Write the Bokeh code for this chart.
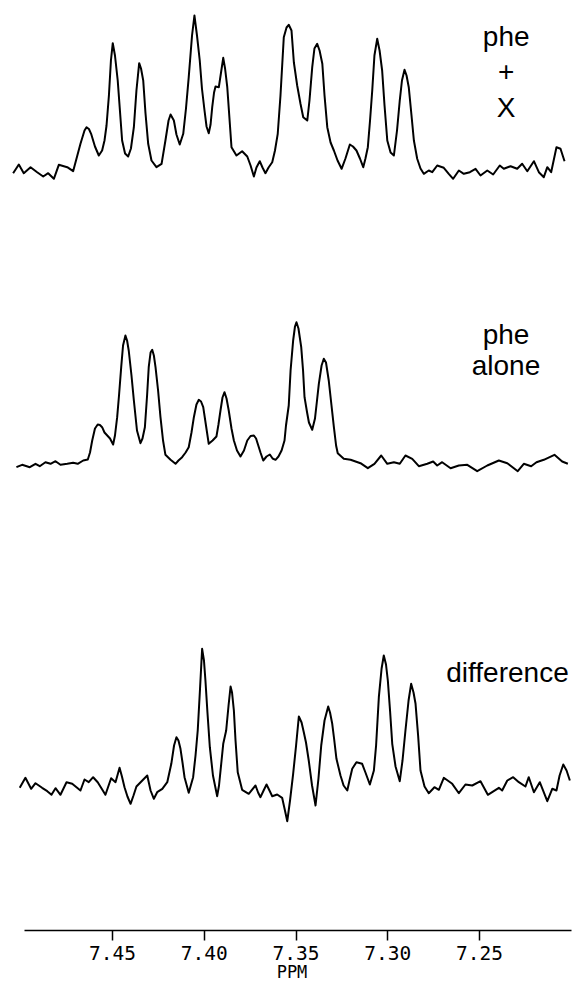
from bokeh.plotting import figure
from bokeh.models import Range1d, FixedTicker, Label
from bokeh.embed import file_html
from bokeh.resources import INLINE

# ---------------- data ----------------
# chemical shift (ppm) and intensity (arbitrary units, 0 = baseline)
top_ppm = [7.5042, 7.5011, 7.4984, 7.4947, 7.4911, 7.4878, 7.4851, 7.4820, 7.4793, 7.4747,
           7.4715, 7.4675, 7.4653, 7.4642, 7.4629, 7.4617, 7.4596, 7.4575, 7.4557, 7.4544,
           7.4533, 7.4520, 7.4509, 7.4499, 7.4487, 7.4472, 7.4460, 7.4448, 7.4432, 7.4415,
           7.4400, 7.4384, 7.4370, 7.4355, 7.4345, 7.4333, 7.4321, 7.4306, 7.4288, 7.4261,
           7.4233, 7.4212, 7.4195, 7.4184, 7.4166, 7.4152, 7.4134, 7.4115, 7.4100, 7.4085,
           7.4067, 7.4054, 7.4040, 7.4025, 7.4013, 7.3999, 7.3988, 7.3976, 7.3966, 7.3957,
           7.3947, 7.3939, 7.3921, 7.3909, 7.3897, 7.3887, 7.3875, 7.3863, 7.3852, 7.3825,
           7.3794, 7.3766, 7.3748, 7.3730, 7.3716, 7.3698, 7.3683, 7.3667, 7.3650, 7.3630,
           7.3615, 7.3600, 7.3585, 7.3567, 7.3552, 7.3540, 7.3525, 7.3512, 7.3494, 7.3476,
           7.3461, 7.3439, 7.3427, 7.3412, 7.3400, 7.3385, 7.3372, 7.3357, 7.3345, 7.3330,
           7.3312, 7.3294, 7.3274, 7.3252, 7.3231, 7.3207, 7.3190, 7.3171, 7.3152, 7.3134,
           7.3122, 7.3109, 7.3097, 7.3085, 7.3073, 7.3058, 7.3045, 7.3031, 7.3018, 7.3003,
           7.2985, 7.2967, 7.2950, 7.2935, 7.2923, 7.2909, 7.2898, 7.2886, 7.2871, 7.2858,
           7.2840, 7.2822, 7.2804, 7.2777, 7.2758, 7.2731, 7.2695, 7.2668, 7.2644, 7.2613,
           7.2586, 7.2553, 7.2522, 7.2495, 7.2458, 7.2426, 7.2390, 7.2368, 7.2331, 7.2295,
           7.2268, 7.2240, 7.2204, 7.2177, 7.2150, 7.2131, 7.2110, 7.2081, 7.2059, 7.2037]
top_int = [-1.7, 7.0, -1.7, 4.3, -0.7, -5.0, -1.7, -7.3, 6.7, 4.3,
           0.3, 27.7, 41.0, 44.3, 42.5, 37.7, 25.0, 16.0, 21.0, 31.0,
           46.0, 76.0, 111.0, 128.3, 116.0, 91.0, 61.0, 31.0, 18.0, 15.0,
           23.0, 44.3, 81.0, 108.3, 103.0, 91.0, 59.0, 27.7, 11.0, 4.3,
           7.7, 31.0, 51.0, 57.0, 51.0, 37.0, 27.0, 37.7, 63.0, 94.3,
           136.0, 156.0, 136.0, 111.0, 83.0, 61.0, 45.0, 38.3, 47.0, 64.3,
           79.0, 85.0, 84.3, 99.0, 113.7, 103.0, 84.3, 53.0, 24.3, 16.0,
           20.3, 15.0, 6.0, -5.0, 4.0, 10.3, 4.0, -1.7, 4.0, 9.3,
           21.0, 37.7, 76.0, 134.3, 144.0, 146.7, 141.0, 109.0, 86.0, 67.7,
           54.3, 51.0, 71.0, 104.3, 123.0, 127.7, 121.0, 107.7, 76.0, 44.3,
           29.0, 21.0, 11.0, 2.7, 13.0, 27.0, 25.0, 21.0, 13.0, 4.3,
           13.0, 24.3, 51.0, 81.0, 116.0, 132.7, 121.0, 101.0, 66.0, 31.0,
           19.0, 16.0, 41.0, 71.0, 91.0, 101.7, 96.0, 84.3, 56.0, 31.0,
           12.7, 3.0, -2.3, 1.0, -0.7, 6.0, 3.7, -2.3, -7.3, 1.0,
           -2.3, -0.7, 2.7, -4.0, 1.0, -3.0, 6.0, 2.7, 5.3, 2.7,
           7.7, 0.3, 10.3, -0.7, -5.7, 4.3, -0.7, 24.3, 22.7, 10.3]

mid_ppm = [7.5024, 7.4993, 7.4951, 7.4920, 7.4897, 7.4866, 7.4838, 7.4811, 7.4784, 7.4747,
           7.4715, 7.4690, 7.4660, 7.4635, 7.4623, 7.4611, 7.4596, 7.4581, 7.4569, 7.4557,
           7.4544, 7.4529, 7.4514, 7.4497, 7.4487, 7.4475, 7.4465, 7.4453, 7.4443, 7.4430,
           7.4421, 7.4412, 7.4397, 7.4384, 7.4367, 7.4348, 7.4337, 7.4324, 7.4312, 7.4303,
           7.4293, 7.4284, 7.4275, 7.4266, 7.4252, 7.4239, 7.4225, 7.4212, 7.4184, 7.4157,
           7.4141, 7.4121, 7.4102, 7.4085, 7.4070, 7.4057, 7.4043, 7.4030, 7.4018, 7.4006,
           7.3991, 7.3976, 7.3955, 7.3934, 7.3923, 7.3912, 7.3901, 7.3890, 7.3879, 7.3867,
           7.3852, 7.3839, 7.3822, 7.3803, 7.3784, 7.3766, 7.3748, 7.3730, 7.3718, 7.3709,
           7.3694, 7.3679, 7.3661, 7.3643, 7.3628, 7.3612, 7.3596, 7.3579, 7.3563, 7.3555,
           7.3540, 7.3530, 7.3516, 7.3506, 7.3498, 7.3487, 7.3472, 7.3462, 7.3454, 7.3440,
           7.3430, 7.3412, 7.3397, 7.3386, 7.3376, 7.3361, 7.3349, 7.3337, 7.3322, 7.3307,
           7.3294, 7.3282, 7.3273, 7.3240, 7.3203, 7.3149, 7.3109, 7.3073, 7.3036, 7.3003,
           7.2967, 7.2935, 7.2904, 7.2867, 7.2831, 7.2785, 7.2753, 7.2731, 7.2704, 7.2658,
           7.2613, 7.2567, 7.2513, 7.2458, 7.2395, 7.2349, 7.2292, 7.2259, 7.2219, 7.2190,
           7.2150, 7.2092, 7.2050, 7.2019]
mid_int = [-3.7, -1.3, -3.7, -0.3, -2.7, 1.3, -0.3, 2.3, -1.3, -0.3,
           0.7, -0.3, 3.0, 4.0, 11.0, 23.0, 35.0, 39.0, 38.5, 36.3,
           31.0, 28.0, 25.0, 19.0, 28.0, 46.3, 68.0, 96.3, 118.0, 128.0,
           123.0, 113.0, 88.0, 63.0, 33.0, 20.3, 25.0, 36.3, 68.0, 96.3,
           111.0, 113.7, 108.0, 96.3, 73.0, 46.3, 23.0, 8.7, 3.7, -0.3,
           3.0, 6.3, 11.0, 16.3, 31.0, 46.3, 59.0, 63.7, 62.0, 56.3,
           38.0, 19.7, 23.0, 27.0, 39.0, 53.0, 66.0, 71.3, 65.0, 53.0,
           35.0, 23.0, 13.0, 7.0, 13.0, 23.0, 27.5, 28.0, 25.0, 19.7,
           11.0, 3.0, 7.0, 9.0, 5.0, 3.7, 7.0, 13.0, 23.0, 38.0,
           58.0, 93.0, 123.0, 137.0, 141.3, 135.0, 116.3, 93.0, 66.3, 51.0,
           41.0, 33.7, 45.0, 63.0, 79.7, 98.0, 104.7, 101.0, 83.0, 58.0,
           36.3, 18.0, 10.3, 4.7, 3.7, 0.3, -4.7, -0.3, 8.0, -0.3,
           1.3, -0.3, 8.0, 4.7, -2.7, -0.3, 2.0, -2.0, 1.3, -4.7,
           -2.0, -1.3, -7.7, -2.0, 3.0, 0.3, -7.7, -0.3, -2.7, 1.3,
           3.7, 8.7, 2.0, -0.3]

diff_ppm = [7.5006, 7.4975, 7.4944, 7.4920, 7.4884, 7.4856, 7.4833, 7.4811, 7.4784, 7.4751,
            7.4720, 7.4675, 7.4653, 7.4630, 7.4606, 7.4581, 7.4560, 7.4539, 7.4508, 7.4484,
            7.4462, 7.4449, 7.4435, 7.4419, 7.4402, 7.4386, 7.4370, 7.4338, 7.4311, 7.4293,
            7.4275, 7.4257, 7.4229, 7.4202, 7.4180, 7.4165, 7.4152, 7.4141, 7.4130, 7.4119,
            7.4108, 7.4085, 7.4061, 7.4048, 7.4036, 7.4024, 7.4012, 7.4002, 7.3994, 7.3983,
            7.3970, 7.3953, 7.3930, 7.3920, 7.3908, 7.3897, 7.3881, 7.3868, 7.3857, 7.3849,
            7.3839, 7.3830, 7.3818, 7.3794, 7.3758, 7.3721, 7.3707, 7.3694, 7.3677, 7.3661,
            7.3645, 7.3630, 7.3603, 7.3576, 7.3563, 7.3548, 7.3533, 7.3516, 7.3500, 7.3485,
            7.3470, 7.3458, 7.3446, 7.3431, 7.3413, 7.3394, 7.3378, 7.3363, 7.3345, 7.3325,
            7.3315, 7.3303, 7.3293, 7.3280, 7.3258, 7.3241, 7.3221, 7.3209, 7.3194, 7.3171,
            7.3140, 7.3122, 7.3098, 7.3076, 7.3064, 7.3049, 7.3034, 7.3022, 7.3010, 7.3000,
            7.2988, 7.2976, 7.2958, 7.2935, 7.2920, 7.2904, 7.2887, 7.2873, 7.2860, 7.2849,
            7.2835, 7.2822, 7.2800, 7.2777, 7.2746, 7.2722, 7.2695, 7.2649, 7.2613, 7.2577,
            7.2540, 7.2495, 7.2455, 7.2395, 7.2377, 7.2349, 7.2317, 7.2286, 7.2250, 7.2232,
            7.2204, 7.2172, 7.2131, 7.2104, 7.2081, 7.2064, 7.2044, 7.2026, 7.2008]
diff_int = [-0.3, 9.7, -1.3, 4.3, -0.3, -3.7, -7.3, -0.7, -7.3, 5.3,
            3.7, -3.0, 8.0, 5.3, 10.3, 5.3, -1.0, -7.3, 9.3, 5.3,
            19.7, 11.0, 0.3, -9.0, -16.3, -8.0, 1.0, 7.0, 12.0, -3.0,
            -11.3, -4.7, -1.3, 5.3, 23.7, 42.0, 50.3, 47.0, 38.7, 25.0,
            10.3, -5.3, 10.3, 32.0, 57.0, 97.0, 138.7, 127.0, 107.0, 75.0,
            40.3, 12.0, -8.7, 2.0, 23.7, 43.7, 57.0, 82.0, 101.0, 95.0,
            77.0, 47.0, 15.3, -2.3, -6.3, 2.0, -5.0, -9.7, -3.0, 3.0,
            -3.0, -8.7, -7.0, -10.3, -21.0, -33.7, -13.0, 13.7, 42.0, 71.0,
            65.0, 55.3, 45.0, 27.0, 2.0, -18.0, 9.0, 42.0, 67.0, 81.0,
            75.0, 63.7, 49.0, 28.7, 12.0, 2.0, -3.0, 7.0, 18.7, 25.3,
            23.7, 15.0, 3.0, 17.0, 42.0, 90.3, 119.0, 132.0, 123.0, 107.0,
            77.0, 43.7, 21.0, 6.3, 27.0, 57.0, 87.0, 103.7, 95.0, 83.7,
            52.0, 17.0, 1.0, -5.7, 0.3, -2.3, 9.7, 3.7, -5.7, 3.0,
            2.0, 6.3, -7.3, -0.3, -3.0, 7.0, 10.3, 5.3, 1.0, 10.3,
            -4.7, 5.3, -13.7, -1.3, -3.0, 12.0, 23.0, 17.0, 7.0]

tick_values = [7.45, 7.40, 7.35, 7.30, 7.25]
tick_labels = ["7.45", "7.40", "7.35", "7.30", "7.25"]
axis_title = "PPM"
label_top = ["phe", "+", "X"]
label_mid = ["phe", "alone"]
label_bot = ["difference"]

# ---------------- layout constants ----------------
W, H = 578, 986
BOTTOM = 56                      # space reserved under the plotting area
FRAME_H = H - BOTTOM
OFF_TOP, OFF_MID, OFF_BOT = 759.0, 467.0, 143.0   # vertical stacking offsets

p = figure(width=W, height=H, output_backend="svg", toolbar_location=None,
           x_range=Range1d(7.50563, 7.19882), y_range=Range1d(0, FRAME_H),
           y_axis_location=None, min_border_left=10, min_border_right=5,
           min_border_top=0, min_border_bottom=BOTTOM)
p.outline_line_color = None
p.xgrid.visible = False
p.ygrid.visible = False
p.background_fill_color = "white"
p.border_fill_color = "white"

for xs, ys, off in [(top_ppm, top_int, OFF_TOP), (mid_ppm, mid_int, OFF_MID),
                    (diff_ppm, diff_int, OFF_BOT)]:
    p.line(xs, [v + off for v in ys], line_color="black", line_width=2.0,
           line_join="round")

ax = p.xaxis[0]
ax.ticker = FixedTicker(ticks=tick_values, minor_ticks=[])
ax.major_label_overrides = {v: s for v, s in zip(tick_values, tick_labels)}
ax.bounds = (7.200, 7.498)
ax.axis_line_color = "black"
ax.axis_line_width = 1.6
ax.major_tick_line_color = "black"
ax.major_tick_line_width = 1.5
ax.major_tick_in = 0
ax.major_tick_out = 10
ax.minor_tick_in = 0
ax.minor_tick_out = 0
ax.major_label_standoff = 5
ax.major_label_text_font = "DejaVu Sans Mono"
ax.major_label_text_font_size = "19.5px"
ax.major_label_text_color = "black"
ax.axis_label = axis_title
ax.axis_label_standoff = -1
ax.axis_label_text_font = "DejaVu Sans Mono"
ax.axis_label_text_font_size = "17px"
ax.axis_label_text_font_style = "normal"
ax.axis_label_text_color = "black"

FONT = "Liberation Sans"
FS = "28px"
for txt, yy in zip(label_top, [894.3, 859.0, 823.3]):
    p.add_layout(Label(x=7.2355, y=yy, text=txt, text_align="center",
                       text_baseline="alphabetic", text_font=FONT,
                       text_font_size=FS, text_color="black"))
for txt, yy in zip(label_mid, [596.0, 565.0]):
    p.add_layout(Label(x=7.2356, y=yy, text=txt, text_align="center",
                       text_baseline="alphabetic", text_font=FONT,
                       text_font_size=FS, text_color="black"))
for txt, yy in zip(label_bot, [258.3]):
    p.add_layout(Label(x=7.2348, y=yy, text=txt, text_align="center",
                       text_baseline="alphabetic", text_font=FONT,
                       text_font_size=FS, text_color="black"))

open("out.html", "w").write(file_html(p, INLINE))
